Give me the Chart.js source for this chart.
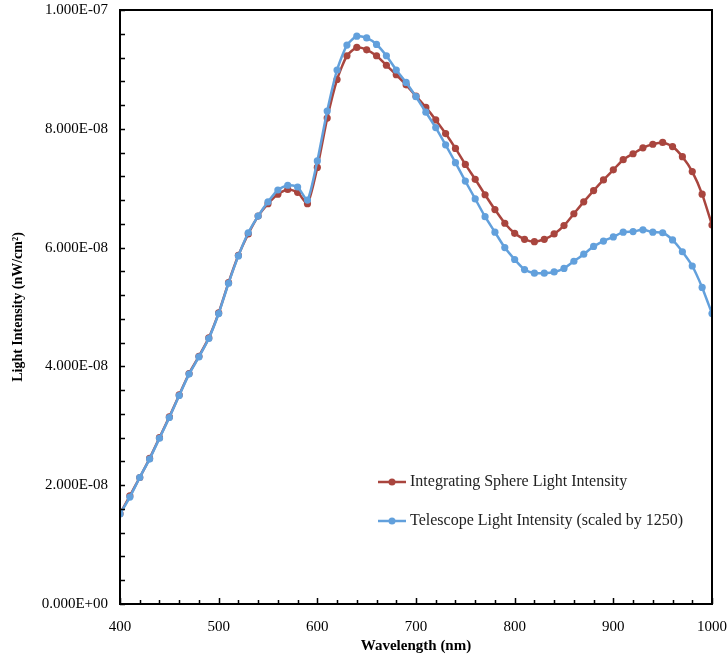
<!DOCTYPE html>
<html>
<head>
<meta charset="utf-8">
<script src="https://cdn.jsdelivr.net/npm/chart.js@4/dist/chart.umd.min.js"></script>
<style>
  html, body { margin: 0; padding: 0; background: #fff; }
</style>
</head>
<body>
<canvas id="chart" width="728" height="659"></canvas>
<script>
// wavelength (nm)
const wavelengths = [
  400, 410, 420, 430, 440, 450, 460, 470, 480, 490,
  500, 510, 520, 530, 540, 550, 560, 570, 580, 590,
  600, 610, 620, 630, 640, 650, 660, 670, 680, 690,
  700, 710, 720, 730, 740, 750, 760, 770, 780, 790,
  800, 810, 820, 830, 840, 850, 860, 870, 880, 890,
  900, 910, 920, 930, 940, 950, 960, 970, 980, 990,
  1000
];

// nW/cm^2
const sphereIntensity = [
  1.52e-8, 1.82e-8, 2.13e-8, 2.45e-8, 2.80e-8, 3.15e-8, 3.52e-8, 3.88e-8, 4.17e-8, 4.48e-8,
  4.90e-8, 5.41e-8, 5.87e-8, 6.23e-8, 6.53e-8, 6.74e-8, 6.90e-8, 6.98e-8, 6.93e-8, 6.74e-8,
  7.35e-8, 8.18e-8, 8.83e-8, 9.23e-8, 9.37e-8, 9.33e-8, 9.23e-8, 9.07e-8, 8.91e-8, 8.74e-8,
  8.55e-8, 8.36e-8, 8.15e-8, 7.92e-8, 7.67e-8, 7.40e-8, 7.15e-8, 6.89e-8, 6.64e-8, 6.41e-8,
  6.24e-8, 6.14e-8, 6.10e-8, 6.14e-8, 6.23e-8, 6.37e-8, 6.57e-8, 6.77e-8, 6.96e-8, 7.14e-8,
  7.31e-8, 7.48e-8, 7.58e-8, 7.68e-8, 7.74e-8, 7.77e-8, 7.70e-8, 7.53e-8, 7.28e-8, 6.90e-8,
  6.38e-8
];

// telescope reading, already scaled by 1250
const telescopeIntensity = [
  1.515e-8, 1.80e-8, 2.13e-8, 2.44e-8, 2.79e-8, 3.14e-8, 3.51e-8, 3.87e-8, 4.16e-8, 4.47e-8,
  4.89e-8, 5.40e-8, 5.86e-8, 6.25e-8, 6.53e-8, 6.77e-8, 6.97e-8, 7.05e-8, 7.02e-8, 6.80e-8,
  7.46e-8, 8.30e-8, 8.99e-8, 9.41e-8, 9.56e-8, 9.53e-8, 9.42e-8, 9.23e-8, 8.99e-8, 8.78e-8,
  8.54e-8, 8.28e-8, 8.02e-8, 7.73e-8, 7.43e-8, 7.12e-8, 6.82e-8, 6.52e-8, 6.26e-8, 6.00e-8,
  5.80e-8, 5.63e-8, 5.57e-8, 5.57e-8, 5.59e-8, 5.65e-8, 5.77e-8, 5.89e-8, 6.02e-8, 6.11e-8,
  6.18e-8, 6.26e-8, 6.27e-8, 6.30e-8, 6.26e-8, 6.25e-8, 6.13e-8, 5.93e-8, 5.69e-8, 5.33e-8,
  4.89e-8
];

const seriesNames = [
  'Integrating Sphere Light Intensity',
  'Telescope Light Intensity (scaled by 1250)'
];

const RED = '#A9453E';
const BLUE = '#62A0DC';
const FONT = "'Liberation Serif', serif";

function toPoints(values) {
  return wavelengths.map((x, i) => ({ x, y: values[i] }));
}

// 6e-8 -> "6.000E-08"
function excelSci(v) {
  const [m, e] = v.toExponential(3).split('e');
  const n = parseInt(e, 10);
  const sign = n < 0 ? '-' : '+';
  return m + 'E' + sign + String(Math.abs(n)).padStart(2, '0');
}

// box round the plot, inward tick marks and the legend inside the plot
const frame = {
  id: 'frame',
  afterDraw(chart) {
    const { ctx, chartArea: a, scales: { x, y } } = chart;
    ctx.save();
    ctx.strokeStyle = '#000';
    ctx.lineWidth = 2;
    ctx.strokeRect(a.left, a.top, a.right - a.left, a.bottom - a.top);

    ctx.lineWidth = 1.5;
    ctx.beginPath();
    for (let v = 400; v <= 1000; v += 20) {
      const px = Math.round(x.getPixelForValue(v)) + 0.5;
      const len = v % 100 === 0 ? 6 : 4;
      ctx.moveTo(px, a.bottom);
      ctx.lineTo(px, a.bottom - len);
    }
    for (let i = 0; i <= 25; i++) {
      const py = Math.round(y.getPixelForValue(i * 4e-9)) + 0.5;
      ctx.moveTo(a.left, py);
      ctx.lineTo(a.left + 5, py);
    }
    ctx.stroke();

    // legend
    const items = [
      { label: seriesNames[0], color: RED, y: 482 },
      { label: seriesNames[1], color: BLUE, y: 521 }
    ];
    ctx.font = '16px ' + FONT;
    ctx.textBaseline = 'middle';
    items.forEach(it => {
      ctx.strokeStyle = it.color;
      ctx.fillStyle = it.color;
      ctx.lineWidth = 2.5;
      ctx.beginPath();
      ctx.moveTo(378, it.y);
      ctx.lineTo(406, it.y);
      ctx.stroke();
      ctx.beginPath();
      ctx.arc(392, it.y, 3.5, 0, Math.PI * 2);
      ctx.fill();
      ctx.fillStyle = '#222';
      ctx.fillText(it.label, 410, it.y);
    });
    ctx.restore();
  }
};

Chart.defaults.font.family = FONT;
Chart.defaults.color = '#000';

new Chart(document.getElementById('chart'), {
  type: 'line',
  data: {
    datasets: [
      {
        label: seriesNames[0],
        data: toPoints(sphereIntensity),
        borderColor: RED,
        backgroundColor: RED,
        borderWidth: 2.5,
        pointRadius: 3.6,
        pointBorderWidth: 0,
        tension: 0.2,
        order: 2
      },
      {
        label: seriesNames[1],
        data: toPoints(telescopeIntensity),
        borderColor: BLUE,
        backgroundColor: BLUE,
        borderWidth: 2.5,
        pointRadius: 3.6,
        pointBorderWidth: 0,
        tension: 0.2,
        order: 1
      }
    ]
  },
  options: {
    responsive: false,
    animation: false,
    layout: { padding: { left: 0, right: 16, top: 10, bottom: 0 } },
    plugins: {
      legend: { display: false },
      tooltip: { enabled: false }
    },
    scales: {
      x: {
        type: 'linear',
        min: 400,
        max: 1000,
        grid: { display: false, drawTicks: false },
        border: { display: false },
        ticks: { stepSize: 100, padding: 14, font: { size: 15 }, callback: v => String(v) },
        title: {
          display: true,
          text: 'Wavelength (nm)',
          font: { size: 15, weight: 'bold' },
          padding: { top: 0, bottom: 4 }
        },
        afterFit(scale) {
          scale.height = 55;
          scale.paddingLeft = 0;
          scale.paddingRight = 0;
        }
      },
      y: {
        min: 0,
        max: 1e-7,
        grid: { display: false, drawTicks: false },
        border: { display: false },
        ticks: {
          stepSize: 2e-8,
          padding: 12,
          font: { size: 15 },
          callback: v => excelSci(v)
        },
        title: {
          display: true,
          text: 'Light Intensity (nW/cm\u00B2)',
          font: { size: 14, weight: 'bold' },
          padding: { top: 10, bottom: 0 }
        },
        afterFit(scale) {
          scale.width = 120;
          scale.paddingTop = 0;
          scale.paddingBottom = 0;
        }
      }
    }
  },
  plugins: [frame]
});
</script>
</body>
</html>
